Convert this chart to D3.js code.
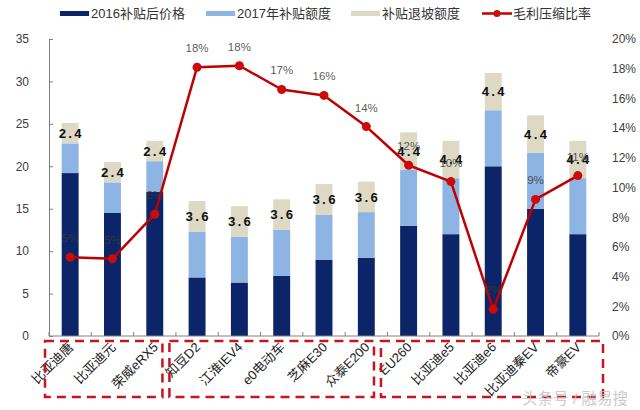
<!DOCTYPE html>
<html>
<head>
<meta charset="utf-8">
<script src="https://cdn.jsdelivr.net/npm/d3@7/dist/d3.min.js"></script>
<style>
  html, body { margin: 0; padding: 0; background: #fff; }
  svg { display: block; }
  text { font-family: "Liberation Sans", "Noto Sans CJK SC", sans-serif; }
</style>
</head>
<body>
<svg id="chart" width="640" height="410"></svg>
<script>
// ---------- data ----------
const categories = ["比亚迪唐", "比亚迪元", "荣威eRX5", "知豆D2", "江淮IEV4", "e0电动车", "芝麻E30", "众泰E200", "EU260", "比亚迪e5", "比亚迪e6", "比亚迪秦EV", "帝豪EV"];
const price2016 = [19.2, 14.5, 17.0, 6.9, 6.3, 7.1, 9.0, 9.2, 13.0, 12.0, 20.0, 15.0, 12.0];
const subsidy2017 = [3.5, 3.6, 3.6, 5.4, 5.4, 5.4, 5.3, 5.4, 6.6, 6.6, 6.6, 6.6, 6.6];
const subsidyCut = [2.4, 2.4, 2.4, 3.6, 3.6, 3.6, 3.6, 3.6, 4.4, 4.4, 4.4, 4.4, 4.4];
const marginRate = [0.053, 0.052, 0.082, 0.181, 0.182, 0.166, 0.162, 0.141, 0.115, 0.104, 0.018, 0.092, 0.108];
const marginLabels = ["5%", "5%", "8%", "18%", "18%", "17%", "16%", "14%", "12%", "10%", "2%", "9%", "11%"];
const seriesNames = ["2016补贴后价格", "2017年补贴额度", "补贴退坡额度", "毛利压缩比率"];
const leftTicks = [0, 5, 10, 15, 20, 25, 30, 35];
const rightTicks = [0, 0.02, 0.04, 0.06, 0.08, 0.10, 0.12, 0.14, 0.16, 0.18, 0.20];
const groups = [[0, 2], [3, 7], [8, 12]];
const watermark = "头条号 / 融易搜";

// ---------- layout ----------
const colors = ["#0c2568", "#8db4e2", "#ddd9c4"];
const red = "#c00000";
const plot = { left: 49, right: 599, top: 39, bottom: 336 };

const svg = d3.select("#chart");

const x = d3.scaleBand().domain(categories).range([plot.left, plot.right]).paddingInner(0.6).paddingOuter(0.3);
const y = d3.scaleLinear().domain([0, 35]).range([plot.bottom, plot.top]);
const y2 = d3.scaleLinear().domain([0, 0.20]).range([plot.bottom, plot.top]);

// stacked data
const rows = categories.map((c, i) => ({ cat: c, a: price2016[i], b: subsidy2017[i], c: subsidyCut[i] }));
const stack = d3.stack().keys(["a", "b", "c"])(rows);

// bars
svg.append("g").selectAll("g").data(stack).join("g")
  .attr("fill", (d, i) => colors[i])
  .selectAll("rect").data(d => d).join("rect")
  .attr("x", d => x(d.data.cat))
  .attr("width", x.bandwidth())
  .attr("y", d => y(d[1]))
  .attr("height", d => y(d[0]) - y(d[1]));

// subsidy cut labels
svg.append("g").selectAll("text").data(stack[2]).join("text")
  .attr("x", d => x(d.data.cat) + x.bandwidth() / 2)
  .attr("y", d => (y(d[0]) + y(d[1])) / 2)
  .attr("dy", "0.36em")
  .attr("text-anchor", "middle")
  .style("font-family", "'Liberation Mono', 'DejaVu Sans Mono', monospace")
  .style("font-weight", "bold")
  .style("font-size", "13px")
  .attr("fill", "#111")
  .text(d => d.data.c.toFixed(1));

// left axis
const axL = svg.append("g").attr("transform", `translate(${plot.left},0)`)
  .call(d3.axisLeft(y).tickValues(leftTicks).tickSize(-4).tickPadding(20).tickSizeOuter(0));
axL.select(".domain").attr("stroke", "#808080");
axL.selectAll(".tick line").attr("stroke", "#808080");
axL.selectAll("text").style("font-size", "12px").attr("fill", "#404040");

// right axis (labels only)
const axR = svg.append("g").attr("transform", `translate(${plot.right},0)`)
  .call(d3.axisRight(y2).tickValues(rightTicks).tickSize(0).tickPadding(13).tickFormat(d3.format(".0%")));
axR.select(".domain").remove();
axR.selectAll("text").style("font-size", "12px").attr("fill", "#404040");

// bottom axis
const step = x.step();
const boundaries = d3.range(categories.length + 1).map(i => plot.left + i * step);
const axB = svg.append("g");
axB.append("line").attr("x1", plot.left).attr("x2", plot.right)
  .attr("y1", plot.bottom).attr("y2", plot.bottom).attr("stroke", "#808080");
axB.selectAll("line.t").data(boundaries).join("line").attr("class", "t")
  .attr("x1", d => d).attr("x2", d => d)
  .attr("y1", plot.bottom).attr("y2", plot.bottom - 4).attr("stroke", "#808080");
axB.selectAll("text").data(categories).join("text")
  .attr("transform", d => `translate(${x(d) + x.bandwidth() / 2 + 4},${plot.bottom + 12}) rotate(-45)`)
  .attr("text-anchor", "end")
  .style("font-size", "13px")
  .attr("fill", "#222")
  .text(d => d);

// margin line
const line = d3.line().x((d, i) => x(categories[i]) + x.bandwidth() / 2).y(d => y2(d));
svg.append("path").datum(marginRate).attr("d", line)
  .attr("fill", "none").attr("stroke", red).attr("stroke-width", 2.5).attr("stroke-linejoin", "round");
svg.append("g").selectAll("circle").data(marginRate).join("circle")
  .attr("cx", (d, i) => x(categories[i]) + x.bandwidth() / 2)
  .attr("cy", d => y2(d))
  .attr("r", 4.5)
  .attr("fill", "#cc0a0a");
svg.append("g").selectAll("text").data(marginRate).join("text")
  .attr("x", (d, i) => x(categories[i]) + x.bandwidth() / 2)
  .attr("y", d => y2(d) - 15)
  .attr("text-anchor", "middle")
  .style("font-size", "11.5px")
  .attr("fill", "#3a3a3a")
  .attr("fill-opacity", 0.85)
  .text((d, i) => marginLabels[i]);

// dashed group boxes
const shift = -10, gap = 3.5;
svg.append("g").selectAll("rect").data(groups).join("rect")
  .attr("x", (g, i) => i === 0 ? boundaries[g[0]] - 4 : boundaries[g[0]] + shift + gap)
  .attr("width", (g, i) => {
    const l = i === 0 ? boundaries[g[0]] - 4 : boundaries[g[0]] + shift + gap;
    const r = i === groups.length - 1 ? boundaries[g[1] + 1] + 4 : boundaries[g[1] + 1] + shift - gap;
    return r - l;
  })
  .attr("y", plot.bottom + 5)
  .attr("height", 56)
  .attr("fill", "none")
  .attr("stroke", "#c8141e")
  .attr("stroke-width", 2.5)
  .attr("stroke-dasharray", "9,6");

// legend
const legendX = [60, 206, 351, 482];
const lg = svg.append("g");
seriesNames.forEach((name, i) => {
  if (i < 3) {
    lg.append("rect").attr("x", legendX[i]).attr("y", 11).attr("width", 29).attr("height", 5).attr("fill", colors[i]);
  } else {
    lg.append("line").attr("x1", legendX[i]).attr("x2", legendX[i] + 30).attr("y1", 13.5).attr("y2", 13.5)
      .attr("stroke", red).attr("stroke-width", 2.5);
    lg.append("circle").attr("cx", legendX[i] + 15).attr("cy", 13.5).attr("r", 3.5).attr("fill", "#cc0a0a");
  }
  lg.append("text").attr("x", legendX[i] + 31).attr("y", 13.5).attr("dy", "0.35em")
    .style("font-size", "13px").attr("fill", "#333").text(name);
});

// watermark
svg.append("text").attr("x", 628).attr("y", 404).attr("text-anchor", "end")
  .style("font-size", "15.5px").attr("fill", "#c4c4c4").attr("fill-opacity", 0.9)
  .text(watermark);
</script>
</body>
</html>
